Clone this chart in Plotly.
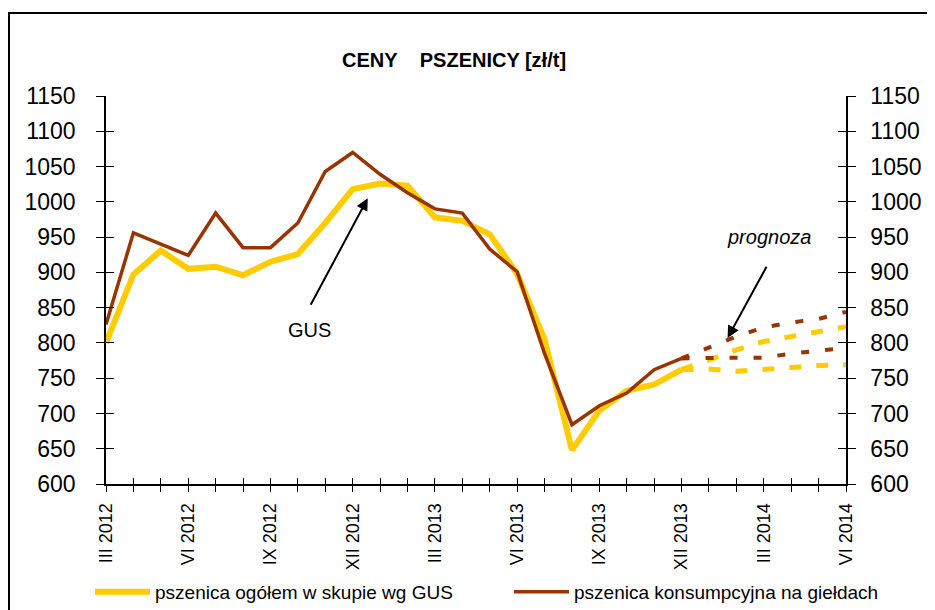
import plotly.graph_objects as go

# ---------------- data ----------------
MONTHS = ["III 2012", "IV 2012", "V 2012", "VI 2012", "VII 2012", "VIII 2012",
          "IX 2012", "X 2012", "XI 2012", "XII 2012", "I 2013", "II 2013",
          "III 2013", "IV 2013", "V 2013", "VI 2013", "VII 2013", "VIII 2013",
          "IX 2013", "X 2013", "XI 2013", "XII 2013", "I 2014", "II 2014",
          "III 2014", "IV 2014", "V 2014", "VI 2014"]
TICK_LABELS = ["III 2012", "VI 2012", "IX 2012", "XII 2012", "III 2013",
               "VI 2013", "IX 2013", "XII 2013", "III 2014", "VI 2014"]

GUS = [800, 897, 931, 905, 908, 896, 915, 926, 970, 1018, 1026, 1023,
       978, 973, 954, 898, 805, 648, 704, 732, 741, 762]
GIELDA = [826, 956, 940, 924, 984, 935, 935, 970, 1043, 1070, 1039, 1013,
          990, 984, 933, 901, 785, 684, 711, 729, 762, 778]

# forecast (XII 2013 - VI 2014)
GUS_HIGH = [762, 776, 790, 802, 809, 816, 823]
GUS_LOW = [762, 763, 760, 762, 765, 768, 769]
GIELDA_HIGH = [778, 793, 809, 822, 829, 834, 844]
GIELDA_LOW = [778, 779, 779, 779, 785, 789, 793]

Y_TICKS = list(range(600, 1151, 50))

YELLOW = "#FFCC00"
BROWN = "#993300"
FONT = "Liberation Sans, Arial, sans-serif"

W, H = 927, 602          # page body adds an 8px offset
n_actual = len(GUS)
x_actual = MONTHS[:n_actual]
x_fc = MONTHS[n_actual - 1:]

fig = go.Figure()
fig.add_trace(go.Scatter(x=x_actual, y=GUS, mode="lines",
                         name="pszenica ogółem w skupie wg GUS",
                         line=dict(color=YELLOW, width=6)))
fig.add_trace(go.Scatter(x=x_actual, y=GIELDA, mode="lines", xaxis="x2",
                         name="pszenica konsumpcyjna na giełdach", legend="legend2",
                         line=dict(color=BROWN, width=3.5)))
for ys in (GUS_HIGH, GUS_LOW):
    fig.add_trace(go.Scatter(x=x_fc, y=ys, mode="lines", showlegend=False,
                             yaxis="y2",
                             line=dict(color=YELLOW, width=5, dash="12px,15px")))
for ys, ya in ((GIELDA_HIGH, "y3"), (GIELDA_LOW, "y4")):
    fig.add_trace(go.Scatter(x=x_fc, y=ys, mode="lines", showlegend=False,
                             yaxis=ya,
                             line=dict(color=BROWN, width=4, dash="8px,16px")))

nx = len(MONTHS) - 1
yr = [Y_TICKS[0], Y_TICKS[-1]]

axis_common = dict(showgrid=False, zeroline=False, linecolor="black",
                   tickcolor="black", tickwidth=1.3, automargin=False)
cat_common = dict(type="category", range=[0, nx], categoryorder="array",
                  categoryarray=MONTHS)

fig.update_layout(
    template="none",
    width=W, height=H,
    margin=dict(l=98, r=89, t=88, b=126, pad=0),
    paper_bgcolor="white", plot_bgcolor="white",
    font=dict(family=FONT, color="black"),
    title=dict(text="CENY\u00a0\u00a0\u00a0\u00a0PSZENICY [zł/t]", x=446 / W, xref="container",
               xanchor="center", y=1 - 52 / H, yref="container", yanchor="middle",
               font=dict(size=20, family=FONT, color="black", weight="bold")),
    xaxis=dict(tickmode="array", tickvals=TICK_LABELS,
               ticktext=TICK_LABELS, tickangle=-90, ticks="outside", ticklen=6,
               minor=dict(tickmode="array", tickvals=MONTHS, ticks="outside",
                          ticklen=6, tickcolor="black", tickwidth=1.3),
               showline=True, linewidth=2, tickfont=dict(size=18),
               ticklabelstandoff=4, **cat_common, **axis_common),
    xaxis2=dict(overlaying="x", anchor="y", side="bottom",
                tickmode="array", tickvals=MONTHS, ticks="inside", ticklen=6,
                showticklabels=False, showline=False, **cat_common, **axis_common),
    yaxis=dict(range=yr, tickvals=Y_TICKS, ticks="outside", ticklen=8,
               showline=True, linewidth=1.5, tickfont=dict(size=23),
               ticklabelstandoff=16, **axis_common),
    yaxis2=dict(overlaying="y", anchor="x", side="right", range=yr,
                tickvals=Y_TICKS, ticks="outside", ticklen=8, showline=True,
                linewidth=1.5, tickfont=dict(size=23), ticklabelstandoff=10,
                **axis_common),
    yaxis3=dict(overlaying="y", anchor="x", side="left", range=yr,
                tickvals=Y_TICKS, ticks="inside", ticklen=8,
                showticklabels=False, showline=False, **axis_common),
    yaxis4=dict(overlaying="y", anchor="x", side="right", range=yr,
                tickvals=Y_TICKS, ticks="inside", ticklen=8,
                showticklabels=False, showline=False, **axis_common),
    legend=dict(orientation="h", xref="container", yref="container",
                x=82 / W, xanchor="left", y=1 - 584 / H, yanchor="middle",
                font=dict(size=19, family=FONT), itemwidth=55,
                bgcolor="rgba(0,0,0,0)", borderwidth=0),
    legend2=dict(orientation="h", xref="container", yref="container",
                 x=501 / W, xanchor="left", y=1 - 584 / H, yanchor="middle",
                 font=dict(size=19, family=FONT), itemwidth=55,
                 bgcolor="rgba(0,0,0,0)", borderwidth=0),
    showlegend=True,
)

# frame around the whole chart
fig.add_shape(type="rect", xref="paper", yref="paper",
              x0=(1 - 98) / 740, x1=(945 - 98) / 740,
              y0=(476 - 620) / 388, y1=(476 - 5) / 388,
              line=dict(color="black", width=2), layer="below")

# annotations
fig.add_annotation(x=9.55, y=1005, ax=7.44, ay=852, axref="x", ayref="y",
                   xref="x", yref="y", text="", showarrow=True, arrowhead=2,
                   arrowsize=1.2, arrowwidth=2, arrowcolor="black")
fig.add_annotation(x=7.44, y=818, xref="x", yref="y", text="GUS", showarrow=False,
                   font=dict(size=20, family=FONT, color="black"))
fig.add_annotation(x=22.68, y=807, ax=24.13, ay=910, axref="x", ayref="y",
                   xref="x", yref="y", text="", showarrow=True, arrowhead=2,
                   arrowsize=1.2, arrowwidth=2, arrowcolor="black")
fig.add_annotation(x=24.2, y=950, xref="x", yref="y", text="<i>prognoza</i>",
                   showarrow=False, font=dict(size=20, family=FONT, color="black"))

fig.write_html("out.html")
